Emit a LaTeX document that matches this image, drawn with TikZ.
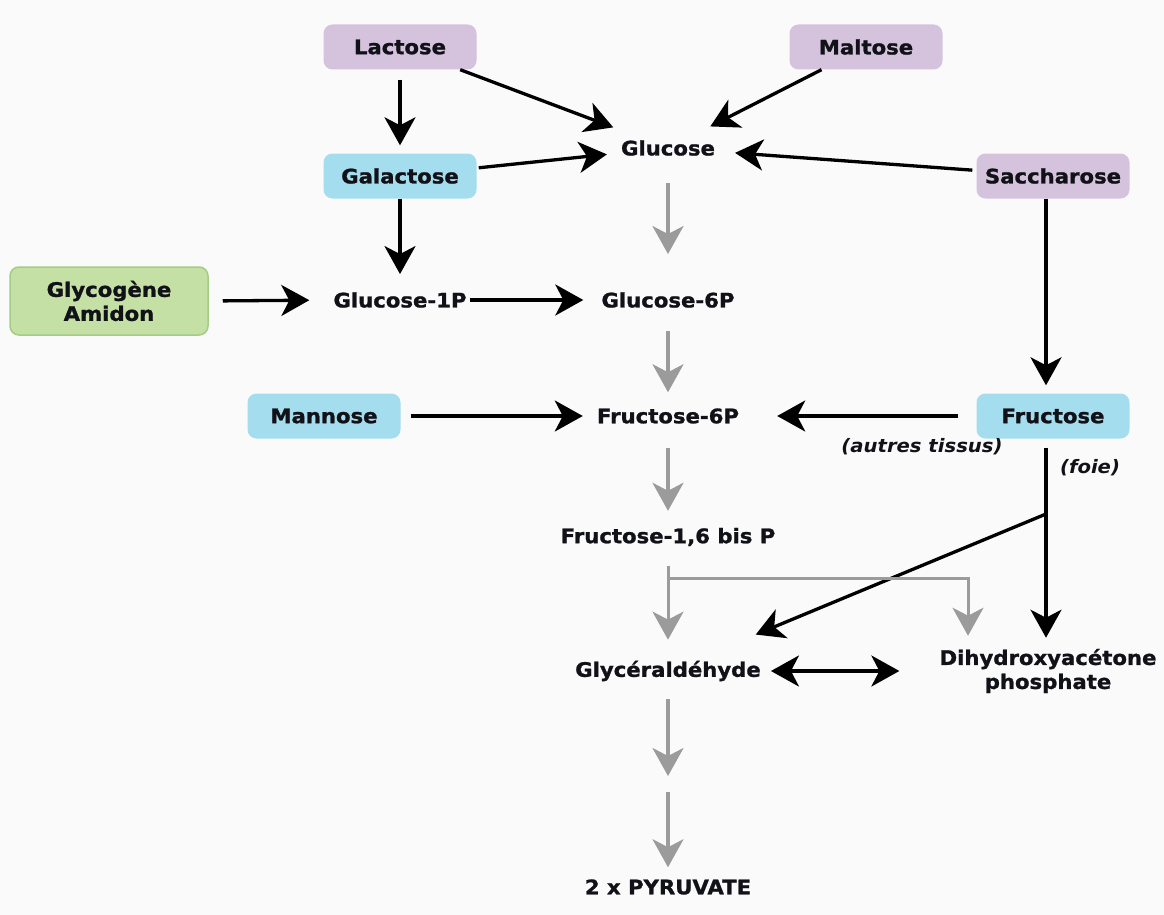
\documentclass[tikz,border=0pt]{standalone}
\usepackage{fontspec}
\setmainfont{DejaVu Sans}[FakeStretch=1.06, BoldFeatures={FakeBold=1.2}]
\usetikzlibrary{arrows.meta}
\definecolor{bg}{HTML}{FAFAFA}
\definecolor{txt}{HTML}{111118}
\definecolor{dicol}{HTML}{D5C3DE}
\definecolor{monocol}{HTML}{A4DDEE}
\definecolor{polycol}{HTML}{C5E0A5}
\definecolor{polyline}{HTML}{A3CD85}
\definecolor{gry}{HTML}{9B9B9B}
\begin{document}
\begin{tikzpicture}[x=1pt,y=-1pt]
	\tikzset{
		lbl/.style={font=\bfseries\fontsize{20}{24}\selectfont, text=txt},
		box/.style={lbl, rounded corners=9pt, minimum width=153pt, minimum height=45pt},
		disac/.style={box, fill=dicol},
		monosac/.style={box, fill=monocol},
		polysac/.style={box, fill=polycol, draw=polyline, line width=1.5pt, minimum width=198pt, minimum height=68pt, align=center},
		met/.style={lbl, inner sep=0pt},
		tissu/.style={font=\bfseries\itshape\fontsize{18.5}{22}\selectfont, text=txt, inner sep=0pt},
		tip/.tip={Stealth[length=28pt,width=31pt,inset=8pt]},
		blk/.style={-tip, line width=3.3pt, black},
		gr/.style={-tip, line width=3.3pt, gry},
	}
	\fill[bg] (0,0) rectangle (1164,915);
	
	% sucres d'entree
	\node[disac] (lac) at (400,47) {Lactose};
	\node[disac] (mal) at (866,47) {Maltose};
	\node[disac] (sac) at (1053,176) {Saccharose};
	\node[monosac] (gal) at (400,176) {Galactose};
	\node[monosac] (man) at (324,416) {Mannose};
	\node[monosac] (fru) at (1053,416) {Fructose};
	\node[polysac] (glyc) at (109,301) {Glycogène\\Amidon};
	
	% metabolites
	\node[met] (glc) at (668,148) {Glucose};
	\node[met] (g1p) at (400,300) {Glucose-1P};
	\node[met] (g6p) at (668,300) {Glucose-6P};
	\node[met] (f6p) at (668,416) {Fructose-6P};
	\node[met] (f16) at (668,537) {Fructose-1,6 bis P};
	\node[met] (gla) at (668,671) {Glycéraldéhyde};
	\node[met, align=center] (dhap) at (1048,671) {Dihydroxyacétone\\phosphate};
	\node[met] (pyr) at (668,887) {2 x PYRUVATE};
	
	\node[tissu] (autres) at (922,447) {(autres tissus)};
	\node[tissu] (foie) at (1090,468) {(foie)};
	
	\coordinate (split) at (668,578);
	\coordinate (branch) at (1046,514);
	\coordinate (mid) at (668,784);
	
	% fleches noires
	\draw[blk, shorten <=10pt, shorten >=8pt] (lac.south) -- (gal.north);
	\draw[blk, shorten <=0pt, shorten >=36pt] (lac) -- (glc);
	\draw[blk, shorten <=0pt, shorten >=30pt] (mal) -- (glc);
	\draw[blk, shorten <=2pt, shorten >=14pt] (gal) -- (glc);
	\draw[blk, shorten <=4pt, shorten >=20pt] (sac) -- (glc);
	\draw[blk, shorten >=8pt] ([xshift=-7pt]sac.south) -- ([xshift=-7pt]fru.north);
	\draw[blk, shorten >=18pt] (gal.south) -- (g1p.north);
	\draw[blk, shorten <=14pt, shorten >=24pt] (glyc.east) -- (g1p.west);
	\draw[blk, shorten <=3pt, shorten >=18pt] (g1p.east) -- (g6p.west);
	\draw[blk, shorten <=10pt, shorten >=14pt] (man.east) -- (f6p.west);
	\draw[blk, shorten <=18pt, shorten >=38pt] (fru.west) -- (f6p.east);
	\draw[blk, shorten <=9pt, shorten >=11pt] ([xshift=-7pt]fru.south) -- ([xshift=-7pt]fru.south |- dhap.north);
	\draw[blk, shorten >=68pt] (branch) -- (gla);
	\draw[tip-tip, line width=3.3pt, shorten <=10pt, shorten >=40pt] (gla.east) -- (dhap.west);
	
	% fleches grises
	\draw[gr, shorten <=27pt, shorten >=38pt] (glc.south) -- (g6p.north);
	\draw[gr, shorten <=23pt, shorten >=16pt] (g6p.south) -- (f6p.north);
	\draw[gr, shorten <=24pt, shorten >=17pt] (f6p.south) -- (f16.north);
	\draw[gry, line width=3pt, shorten <=20pt] (f16.south) -- (split);
	\draw[gr, line width=3pt, shorten >=21pt] (split) -- (gla.north);
	\draw[gr, line width=3pt, shorten >=13pt] (split) -| ([xshift=-80pt]dhap.north);
	\draw[gr, shorten <=18pt, shorten >=8pt] (gla.south) -- (mid);
	\draw[gr, shorten <=8pt, shorten >=12pt] (mid) -- (pyr.north);
	
\end{tikzpicture}
\end{document}
